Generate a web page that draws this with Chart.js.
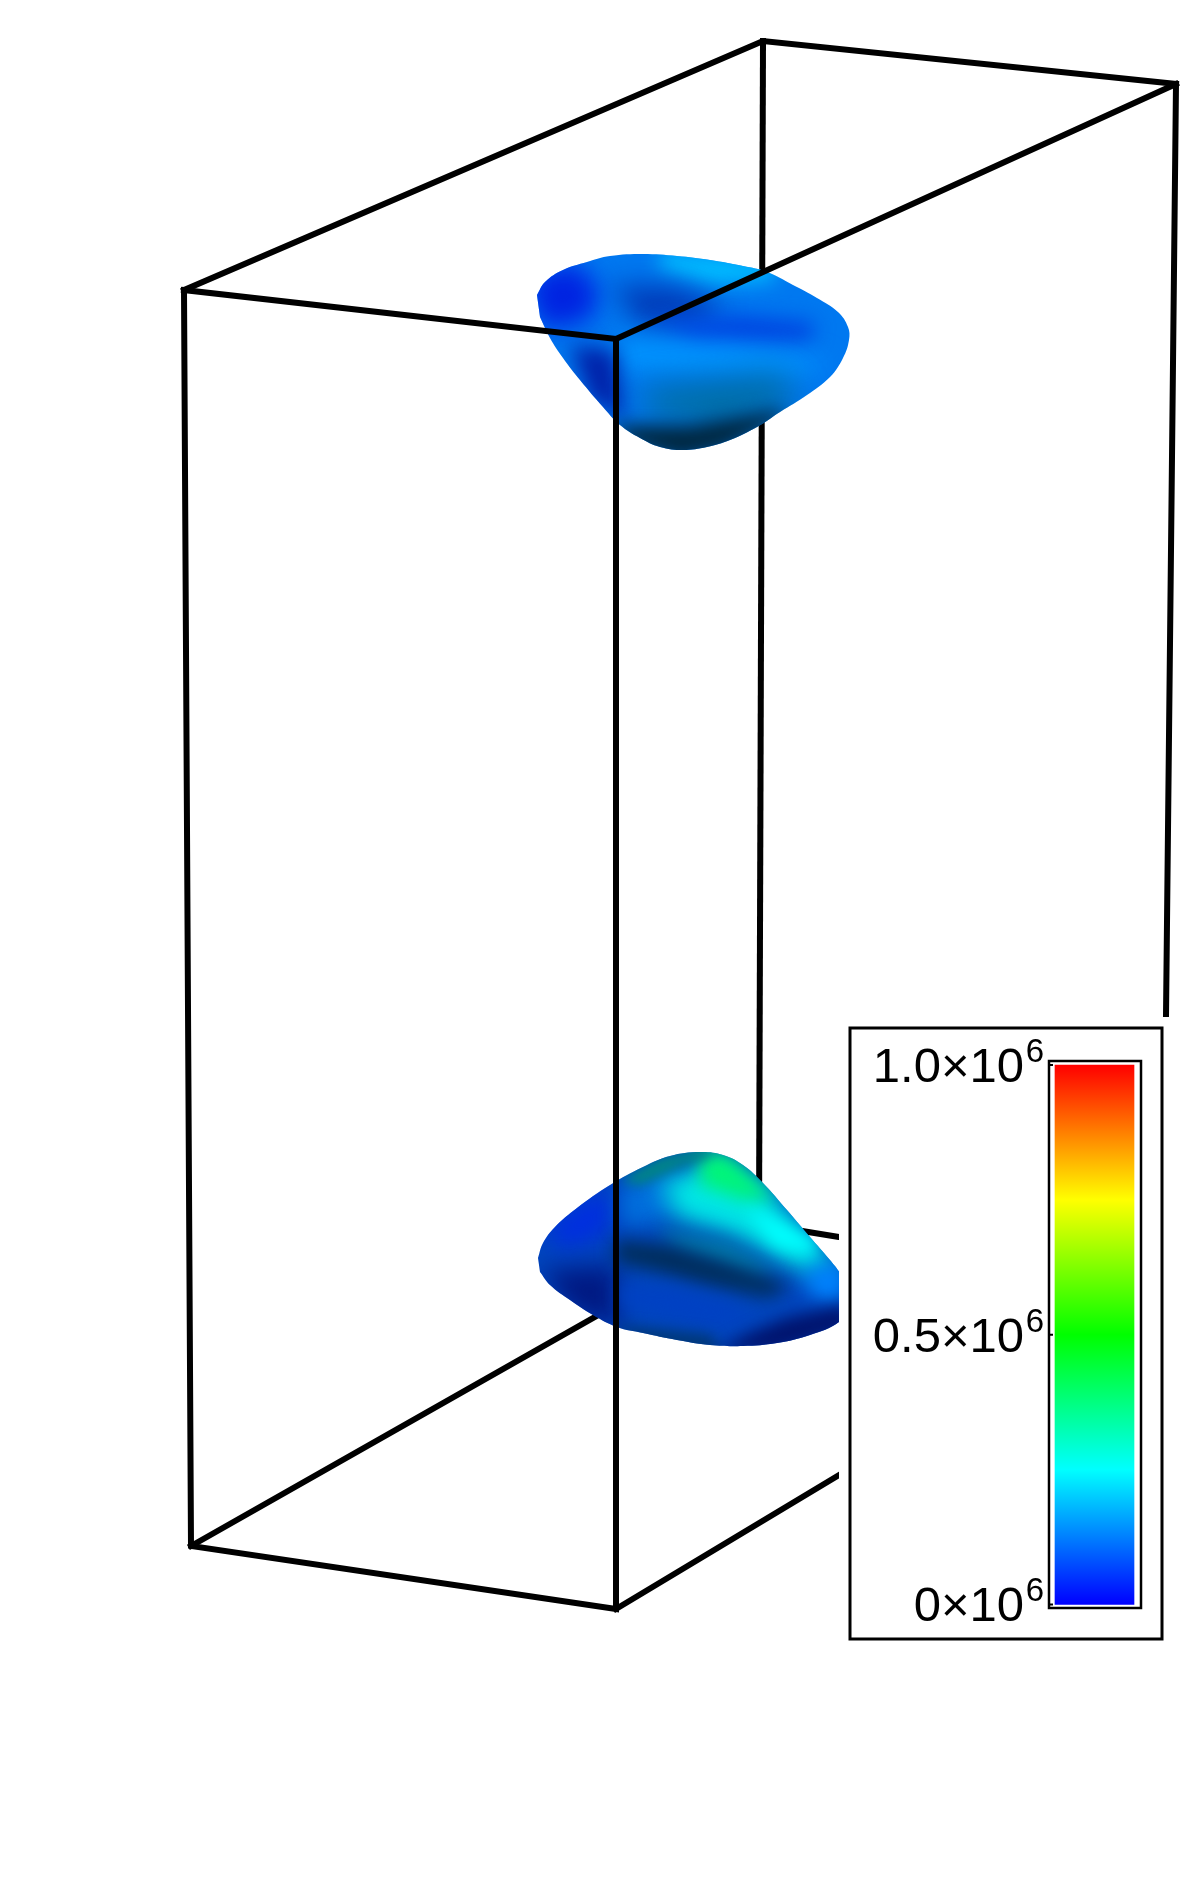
<!DOCTYPE html>
<html>
<head>
<meta charset="utf-8">
<title>Isosurface</title>
<script src="https://cdn.jsdelivr.net/npm/chart.js@4/dist/chart.umd.min.js"></script>
<style>
  html, body { margin: 0; padding: 0; background: #fff; }
  canvas { display: block; }
</style>
</head>
<body>
<canvas id="chart" width="1200" height="1891"></canvas>
<script>
// colour bar
const barTickValues = [1000000, 500000, 0];
const barTickLabels = ['1.0×10', '0.5×10', '0×10'];
const barExponent = '6';
const barStopValues = [0, 250000, 500000, 750000, 1000000];
const barStopColors = ['#0000ff', '#00ffff', '#00ff00', '#ffff00', '#ff0000'];

// projected box edges
const backEdgeX = [[184, 763, 1176], [763, 759], [191, 759, 839]];
const backEdgeY = [[290, 41, 84], [41, 1224], [1546, 1224, 1237]];
const frontEdgeX = [[184, 616, 1176], [184, 191, 616, 616], [616, 839], [1176, 1166]];
const frontEdgeY = [[290, 339, 84], [290, 1546, 1609, 339], [1609, 1475], [84, 1016]];

// top surface
const topOutlineX = [537, 545, 563, 587, 610, 643, 677, 710, 743, 767, 793, 817, 838, 848, 849, 843, 830, 807, 780, 757, 730, 707, 683, 660, 640, 620, 603, 580, 563, 550, 540];
const topOutlineY = [295, 282, 270, 262, 256, 254, 256, 260, 266, 272, 285, 298, 312, 327, 340, 358, 377, 395, 412, 427, 440, 447, 450, 447, 438, 425, 407, 380, 358, 338, 317];
const topBase = 'rgb(0,120,240)';
const topPatchX = [
  [530, 575, 600, 590, 545, 530],
  [660, 775, 775, 715, 660],
  [610, 670, 725, 700, 640],
  [650, 740, 815, 810, 700],
  [615, 720, 790, 830, 800, 700, 615],
  [570, 615, 625, 590],
  [640, 780, 800, 720, 650],
  [610, 690, 775, 790, 725, 680, 630]
];
const topPatchY = [
  [275, 262, 290, 320, 330, 300],
  [250, 262, 280, 285, 270],
  [285, 285, 305, 325, 325],
  [322, 315, 322, 342, 345],
  [340, 345, 355, 362, 375, 372, 368],
  [345, 350, 420, 400],
  [390, 375, 400, 425, 415],
  [425, 425, 410, 415, 450, 460, 445]
];
const topPatchColors = ['rgb(0,35,225)', 'rgb(0,190,255)', 'rgb(0,60,185)', 'rgb(0,70,225)', 'rgb(0,150,255)', 'rgb(0,35,170)', 'rgb(0,110,160)', 'rgb(0,40,65)'];
const topPatchBlur = [12, 10, 13, 10, 12, 10, 16, 9];

// bottom surface
const lowOutlineX = [538, 543, 555, 577, 610, 643, 670, 700, 723, 743, 763, 787, 810, 830, 840, 850, 852, 839, 810, 777, 743, 710, 677, 643, 617, 593, 570, 550, 540];
const lowOutlineY = [1258, 1243, 1227, 1208, 1185, 1167, 1156, 1152, 1155, 1165, 1183, 1210, 1237, 1260, 1273, 1290, 1305, 1322, 1335, 1343, 1346, 1345, 1340, 1333, 1327, 1315, 1300, 1285, 1272];
const lowBase = 'rgb(0,70,190)';
const lowPatchX = [
  [545, 600, 615, 605, 560],
  [540, 615, 620, 570],
  [620, 670, 680, 650, 620],
  [660, 720, 770, 830, 840, 800, 730, 675],
  [655, 730, 780, 750, 680],
  [700, 730, 775, 745, 700],
  [620, 660, 700, 715, 680, 640],
  [745, 815, 815, 775],
  [615, 670, 725, 790, 770, 710, 660, 615],
  [805, 845, 845, 810],
  [620, 670, 730, 755, 710, 640, 620],
  [612, 710, 725, 640],
  [745, 785, 850, 850, 777, 715]
];
const lowPatchY = [
  [1225, 1190, 1200, 1235, 1250],
  [1270, 1265, 1330, 1310],
  [1185, 1170, 1210, 1225, 1225],
  [1180, 1160, 1190, 1260, 1280, 1270, 1235, 1218],
  [1228, 1240, 1272, 1278, 1252],
  [1150, 1155, 1200, 1200, 1185],
  [1180, 1158, 1148, 1155, 1166, 1185],
  [1205, 1240, 1255, 1245],
  [1240, 1245, 1262, 1285, 1298, 1285, 1272, 1262],
  [1270, 1262, 1305, 1295],
  [1285, 1288, 1303, 1322, 1325, 1310, 1305],
  [1325, 1335, 1355, 1345],
  [1335, 1318, 1303, 1330, 1352, 1352]
];
const lowPatchColors = ['rgb(0,45,225)', 'rgb(0,25,130)', 'rgb(0,110,220)', 'rgb(0,230,230)', 'rgb(0,120,170)', 'rgb(0,245,120)', 'rgb(0,135,130)', 'rgb(0,255,255)', 'rgb(0,45,90)', 'rgb(0,130,255)', 'rgb(0,65,195)', 'rgb(0,55,115)', 'rgb(0,20,110)'];
const lowPatchBlur = [12, 12, 10, 12, 9, 9, 6, 8, 9, 10, 8, 7, 8];

// legend panel
const maskX = [839, 1180, 1180, 839];
const maskY = [1017, 1017, 1655, 1655];
const panelX = [850, 1162, 1162, 850, 850];
const panelY = [1028, 1028, 1639, 1639, 1028];
const barFrameX = [1049, 1141, 1141, 1049, 1049];
const barFrameY = [1061, 1061, 1608, 1608, 1061];

const pts = (xs, ys) => xs.map((x, i) => ({ x: x, y: ys[i] }));
const layers = [];

function addEdges(xs, ys) {
  xs.forEach((x, i) => layers.push({
    data: pts(x, ys[i]), borderColor: '#000', borderWidth: 6,
    borderCapStyle: 'square', borderJoinStyle: 'miter', fill: false
  }));
}

function addSurface(ox, oy, base, px, py, colors, blur) {
  const outlineAt = layers.length;
  layers.push({ data: pts(ox, oy), borderWidth: 0, backgroundColor: base, fill: 'shape', tension: 0.4 });
  px.forEach((x, i) => layers.push({
    data: pts(x, py[i]), showLine: false, fill: false,
    shade: { color: colors[i], blur: blur[i], outline: outlineAt }
  }));
}

addEdges(backEdgeX, backEdgeY);
addSurface(topOutlineX, topOutlineY, topBase, topPatchX, topPatchY, topPatchColors, topPatchBlur);
addSurface(lowOutlineX, lowOutlineY, lowBase, lowPatchX, lowPatchY, lowPatchColors, lowPatchBlur);
addEdges(frontEdgeX, frontEdgeY);

layers.push({ data: pts(maskX, maskY), borderWidth: 0, backgroundColor: '#fff', fill: 'shape' });
layers.push({ data: pts(panelX, panelY), borderColor: '#000', borderWidth: 3, borderCapStyle: 'square', fill: false });
layers.push({ data: pts(barFrameX, barFrameY), borderColor: '#000', borderWidth: 2.5, borderCapStyle: 'square', fill: false });

// the colour bar itself, in data units on its own axis
layers.push({
  type: 'bar', yAxisID: 'yBar', grouped: false, barThickness: 79, borderWidth: 0,
  data: [{ x: 1094.5, y: [0, 1000000] }],
  backgroundColor: (c) => {
    const s = c.chart.scales.yBar;
    const y0 = s ? s.getPixelForValue(0) : NaN;
    const y1 = s ? s.getPixelForValue(1000000) : NaN;
    if (!isFinite(y0) || !isFinite(y1)) return barStopColors[0];
    const g = c.chart.ctx.createLinearGradient(0, y0, 0, y1);
    barStopValues.forEach((v, i) => g.addColorStop(v / 1000000, barStopColors[i]));
    return g;
  }
});
barTickValues.forEach(v => layers.push({
  yAxisID: 'yBar', data: [{ x: 1050, y: v }, { x: 1053, y: v }],
  borderColor: '#000', borderWidth: 2, fill: false
}));

layers.forEach((l, i) => { l.order = layers.length - i; l.pointRadius = 0; l.clip = false; });

// soft shading patches, clipped by the surface outline
const shadePlugin = {
  id: 'shade',
  beforeDatasetDraw(chart, args) {
    const ds = chart.data.datasets[args.index];
    if (!ds.shade) return;
    const ctx = chart.ctx;
    ctx.save();
    ctx.beginPath();
    chart.getDatasetMeta(ds.shade.outline).dataset.path(ctx);
    ctx.closePath();
    ctx.clip();
    ctx.filter = 'blur(' + ds.shade.blur + 'px)';
    ctx.fillStyle = ds.shade.color;
    ctx.beginPath();
    args.meta.data.forEach((p, i) => i ? ctx.lineTo(p.x, p.y) : ctx.moveTo(p.x, p.y));
    ctx.closePath();
    ctx.fill();
    ctx.restore();
  }
};

// tick labels with a raised exponent
const tickPlugin = {
  id: 'barTicks',
  afterDraw(chart) {
    const ctx = chart.ctx;
    const s = chart.scales.yBar;
    ctx.save();
    ctx.fillStyle = '#000';
    ctx.textAlign = 'right';
    ctx.textBaseline = 'alphabetic';
    barTickValues.forEach((v, i) => {
      const y = s.getPixelForValue(v);
      ctx.font = '49px "Liberation Sans"';
      ctx.fillText(barTickLabels[i], 1024, y + 17);
      ctx.font = '33px "Liberation Sans"';
      ctx.fillText(barExponent, 1044, y - 3);
    });
    ctx.restore();
  }
};

new Chart(document.getElementById('chart'), {
  type: 'line',
  data: { datasets: layers },
  plugins: [shadePlugin, tickPlugin],
  options: {
    responsive: false,
    animation: false,
    devicePixelRatio: 1,
    layout: { padding: 0 },
    events: [],
    plugins: { legend: { display: false }, tooltip: { enabled: false }, title: { display: false } },
    scales: {
      x: { type: 'linear', min: 0, max: 1200, display: false, offset: false },
      y: { type: 'linear', min: 0, max: 1891, reverse: true, display: false, offset: false },
      yBar: { type: 'linear', min: -531050, max: 2974050, display: false, offset: false }
    }
  }
});
</script>
</body>
</html>
